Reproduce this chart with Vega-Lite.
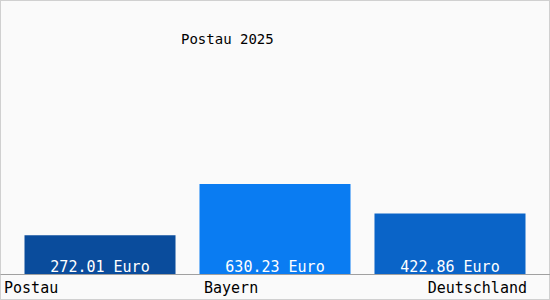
{
  "$schema": "https://vega.github.io/schema/vega-lite/v6.json",
  "width": 550,
  "height": 300,
  "padding": 0,
  "autosize": {"type": "none"},
  "background": "#fafafa",
  "config": {
    "view": {"stroke": "#d0d0d0", "strokeWidth": 2, "fill": "#fafafa"},
    "font": "DejaVu Sans Mono"
  },
  "title": {
    "text": "Postau 2025",
    "anchor": "start",
    "frame": "group",
    "dx": 181,
    "offset": -43,
    "dy": 15,
    "baseline": "alphabetic",
    "font": "DejaVu Sans Mono",
    "fontSize": 14,
    "fontWeight": "normal",
    "color": "#000000"
  },
  "data": {
    "values": [
      {"region": "Postau", "value": 272.01, "label": "272.01 Euro", "color": "#0a4c9c"},
      {"region": "Bayern", "value": 630.23, "label": "630.23 Euro", "color": "#0a7cf2"},
      {"region": "Deutschland", "value": 422.86, "label": "422.86 Euro", "color": "#0a64c8"}
    ]
  },
  "encoding": {
    "x": {
      "field": "region",
      "type": "nominal",
      "sort": null,
      "scale": {"paddingInner": 0.137, "paddingOuter": 0.14},
      "axis": {
        "title": null,
        "offset": -26,
        "domainColor": "#a0a0a0",
        "domainWidth": 1,
        "ticks": false,
        "labelAngle": 0,
        "labelFont": "DejaVu Sans Mono",
        "labelFontSize": 15,
        "labelColor": "#000000",
        "labelPadding": 6,
        "labelBaseline": "top",
        "labelAlign": {"condition": {"test": "datum.value === 'Deutschland'", "value": "right"}, "value": "left"},
        "labelOffset": {"condition": [
          {"test": "datum.value === 'Postau'", "value": -96},
          {"test": "datum.value === 'Bayern'", "value": -71}
        ], "value": 77}
      }
    },
    "y": {
      "field": "value",
      "type": "quantitative",
      "scale": {"domain": [0, 1919], "range": [274, 0], "nice": false},
      "axis": null
    }
  },
  "layer": [
    {
      "mark": {"type": "bar"},
      "encoding": {
        "color": {"field": "color", "type": "nominal", "scale": null, "legend": null}
      }
    },
    {
      "mark": {"type": "text", "color": "#ffffff", "fontSize": 15, "font": "DejaVu Sans Mono", "baseline": "alphabetic", "dy": -2, "dx": 0},
      "encoding": {
        "y": {"datum": 0, "type": "quantitative"},
        "text": {"field": "label"}
      }
    }
  ]
}
